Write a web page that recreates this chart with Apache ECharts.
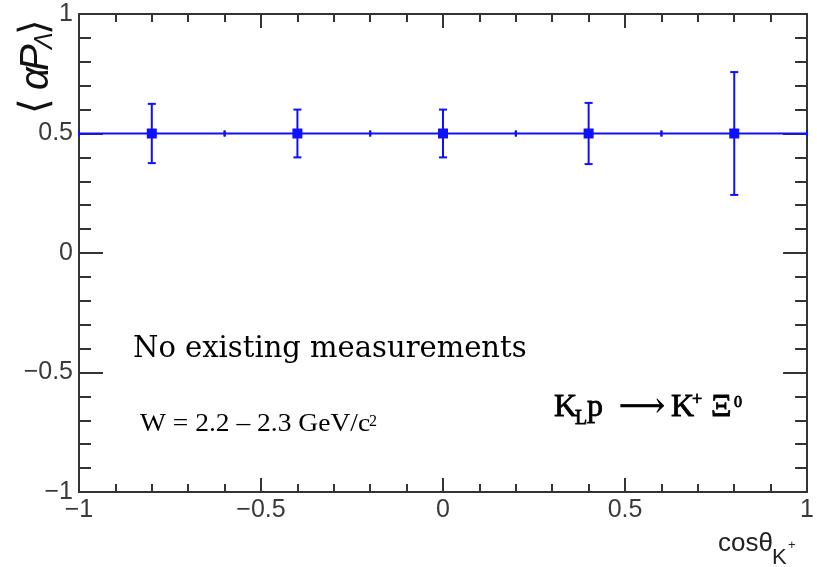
<!DOCTYPE html>
<html>
<head>
<meta charset="utf-8">
<title>alphaP vs cos theta</title>
<script src="https://cdn.jsdelivr.net/npm/echarts@6/dist/echarts.min.js"></script>
<style>
html, body { margin: 0; padding: 0; background: #fff; }
#main { width: 817px; height: 567px; }
</style>
</head>
<body>
<div id="main"></div>
<script>
// measured points (bin centres, value, errors)
var cosBins = [-0.8, -0.4, 0, 0.4, 0.8];
var alphaP = [0.5, 0.5, 0.5, 0.5, 0.5];
var errY = [0.124, 0.1, 0.1, 0.128, 0.257];
var errX = [0.2, 0.2, 0.2, 0.2, 0.2];
var axisTicks = [-1, -0.5, 0, 0.5, 1];

var chart = echarts.init(document.getElementById('main'));
var frame = '#333';
var blue = '#1010ff';
var sans = 'Liberation Sans';

function fmt(v) {
    return v < 0 ? '\u2212' + Math.abs(v) : String(v);
}

function axis(pos, major, minor, labels) {
    return {
        type: 'value',
        position: pos,
        min: axisTicks[0],
        max: axisTicks[axisTicks.length - 1],
        interval: 0.5,
        axisLine: { show: true, onZero: false, lineStyle: { color: frame, width: 2 } },
        axisTick: { show: true, inside: true, length: major, lineStyle: { color: frame, width: 2 } },
        minorTick: { show: true, splitNumber: 5, length: minor, lineStyle: { color: frame, width: 2 } },
        splitLine: { show: false },
        axisLabel: {
            show: labels,
            formatter: fmt,
            fontSize: 25,
            fontFamily: sans,
            color: '#3a3a3a',
            margin: 6,
            showMinLabel: true,
            showMaxLabel: true
        }
    };
}

// error bars like ROOT: x bar with small end marks, y bar with caps, square marker
function renderErr(params, api) {
    var x = api.value(0), y = api.value(1), ey = api.value(2), ex = api.value(3);
    var c = api.coord([x, y]);
    var l = api.coord([x - ex, y]);
    var r = api.coord([x + ex, y]);
    var t = api.coord([x, y + ey]);
    var b = api.coord([x, y - ey]);
    var st = { stroke: blue, lineWidth: 2 };
    var cap = 4, bin = 3, m = 5;
    return {
        type: 'group',
        children: [
            { type: 'line', shape: { x1: l[0], y1: c[1], x2: r[0], y2: c[1] }, style: st },
            { type: 'line', shape: { x1: c[0], y1: t[1], x2: c[0], y2: b[1] }, style: st },
            { type: 'line', shape: { x1: c[0] - cap, y1: t[1], x2: c[0] + cap, y2: t[1] }, style: st },
            { type: 'line', shape: { x1: c[0] - cap, y1: b[1], x2: c[0] + cap, y2: b[1] }, style: st },
            { type: 'line', shape: { x1: l[0], y1: c[1] - bin, x2: l[0], y2: c[1] + bin }, style: st },
            { type: 'line', shape: { x1: r[0], y1: c[1] - bin, x2: r[0], y2: c[1] + bin }, style: st },
            { type: 'rect', shape: { x: c[0] - m, y: c[1] - m, width: 2 * m, height: 2 * m }, style: { fill: blue } }
        ]
    };
}

// plain text placed by baseline
function txt(s, x, base, size, family, extra) {
    var o = {
        type: 'text',
        x: x,
        y: base - 0.34 * size,
        z: 10,
        style: {
            text: s,
            fontSize: size,
            fontFamily: family,
            fill: '#000',
            align: 'left',
            verticalAlign: 'middle'
        }
    };
    if (extra) {
        for (var k in extra) o.style[k] = extra[k];
    }
    return o;
}

// rotated text (reads bottom to top), base = x of baseline, y = start
function rot(s, base, y, size, extra) {
    var o = txt(s, 0, 0, size, sans, extra);
    o.x = base - 0.34 * size;
    o.y = y;
    o.rotation = Math.PI / 2;
    return o;
}

var data = cosBins.map(function (x, i) {
    return [x, alphaP[i], errY[i], errX[i]];
});

var wText = txt('W = 2.2 \u2013 2.3 GeV/c', 140, 433, 25, 'Liberation Serif');
wText.scaleX = 1.1;

// slightly heavier serif for the reaction label
var heavy = { stroke: '#000', lineWidth: 0.8 };

var option = {
    animation: false,
    backgroundColor: '#fff',
    grid: { left: 79, right: 8, top: 14, bottom: 75, containLabel: false },
    xAxis: [axis('bottom', 14, 8, true), axis('top', 14, 8, false)],
    yAxis: [axis('left', 24, 12, true), axis('right', 24, 12, false)],
    series: [{
        type: 'custom',
        renderItem: renderErr,
        data: data,
        encode: { x: 0, y: 1 },
        clip: false,
        z: 5
    }],
    graphic: [
        txt('No existing measurements', 133, 359, 29, 'DejaVu Serif'),
        wText,
        txt('2', 369, 427, 16, 'Liberation Serif'),

        txt('K', 554, 418, 32, 'Liberation Serif', heavy),
        txt('L', 575, 426, 20, 'Liberation Serif', heavy),
        txt('p', 587, 418, 32, 'Liberation Serif', heavy),
        txt('\u27F6', 619, 419, 32, 'DejaVu Serif', heavy),
        txt('K', 671, 418, 32, 'Liberation Serif', heavy),
        txt('+', 692, 406, 18, 'Liberation Serif', heavy),
        txt('\u039E', 711, 418, 32, 'Liberation Serif', heavy),
        txt('0', 734, 408, 16, 'Liberation Serif', heavy),

        txt('cos\u03B8', 718, 553, 26, sans, { fill: '#222' }),
        txt('K', 772, 565, 22, sans, { fill: '#222' }),
        txt('+', 788, 550, 13, sans, { fill: '#222' }),

        rot('\u27E8', 50, 114, 40, { fill: '#111' }),
        rot('\u03B1', 50, 90, 40, { fill: '#111', fontStyle: 'italic' }),
        rot('P', 50, 71, 40, { fill: '#111', fontStyle: 'italic' }),
        rot('\u039B', 54, 49, 25, { fill: '#111', fontStyle: 'italic' }),
        rot('\u27E9', 50, 35, 40, { fill: '#111' })
    ]
};

chart.setOption(option);
</script>
</body>
</html>
